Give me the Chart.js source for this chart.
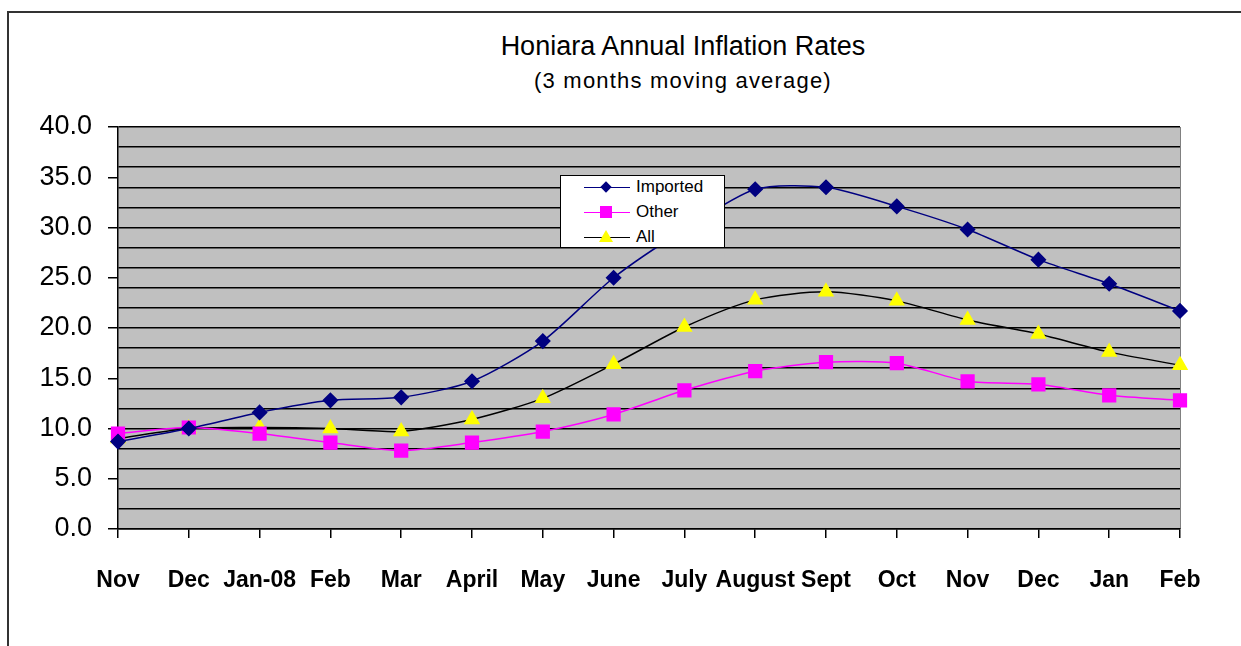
<!DOCTYPE html>
<html>
<head>
<meta charset="utf-8">
<script src="https://cdn.jsdelivr.net/npm/chart.js@4"></script>
<style>
  html, body { margin: 0; padding: 0; background: #fff; overflow: hidden; }
  body { width: 1241px; height: 646px; position: relative; font-family: Arial, "Liberation Sans", sans-serif; }
  #frame { position: absolute; left: 7px; top: 11px; width: 1400px; height: 700px; border-left: 2px solid #333; border-top: 2px solid #333; }
  #wrap { position: absolute; left: 0; top: 0; width: 1241px; height: 646px; }
  .ttl { position: absolute; left: 383px; width: 600px; text-align: center; color: #000; white-space: nowrap; }
  #title { top: 29px; font-size: 27px; line-height: 34px; }
  #subtitle { top: 67px; font-size: 22px; line-height: 28px; letter-spacing: 1.2px; }
  #legend { position: absolute; left: 560px; top: 175px; width: 163px; height: 71px; background: #fff; border: 1px solid #000; font-size: 17px; }
  .row { position: absolute; left: 0; height: 20px; width: 160px; }
  .row .ln { position: absolute; left: 23px; top: 10px; width: 46px; height: 0; border-top: 1.5px solid #000; }
  .row .mk { position: absolute; }
  .row .tx { position: absolute; left: 75px; top: 0px; }
</style>
</head>
<body>
<div id="frame"></div>
<div id="title" class="ttl">Honiara Annual Inflation Rates</div>
<div id="subtitle" class="ttl">(3 months moving average)</div>
<div id="wrap"><canvas id="inflationChart" width="1241" height="646"></canvas></div>
<div id="legend"></div>
<script>
months = ['Nov', 'Dec', 'Jan-08', 'Feb', 'Mar', 'April', 'May', 'June', 'July', 'August', 'Sept', 'Oct', 'Nov', 'Dec', 'Jan', 'Feb'];
imported = [8.7, 10.0, 11.6, 12.8, 13.1, 14.7, 18.7, 25.0, 29.8, 33.8, 34.0, 32.1, 29.8, 26.8, 24.4, 21.7];
other = [9.5, 10.1, 9.5, 8.6, 7.8, 8.6, 9.7, 11.4, 13.8, 15.7, 16.6, 16.5, 14.7, 14.4, 13.3, 12.8];
all = [9.0, 10.0, 10.1, 10.0, 9.7, 10.9, 13.0, 16.4, 20.1, 22.8, 23.6, 22.7, 20.8, 19.4, 17.6, 16.3];

seriesNames = ['Imported', 'Other', 'All'];
lineColors = ['#000080', '#ff00ff', '#000000'];
markerColors = ['#000080', '#ff00ff', '#ffff00'];
markerStyles = ['rectRot', 'rect', 'triangle'];
markerSizes = [7, 9, 8];

// grey plot background + right edge
const plotBackground = {
  id: 'plotBackground',
  beforeDraw(chart) {
    const a = chart.chartArea;
    const ctx = chart.ctx;
    ctx.save();
    ctx.fillStyle = '#c0c0c0';
    ctx.fillRect(a.left, a.top, a.right - a.left, a.bottom - a.top);
    ctx.strokeStyle = '#808080';
    ctx.lineWidth = 1;
    ctx.beginPath();
    ctx.moveTo(a.right + 0.5, a.top);
    ctx.lineTo(a.right + 0.5, a.bottom);
    ctx.stroke();
    ctx.restore();
  }
};

datasets = [];
seriesData = [imported, other, all];
for (var i = 0; i < 3; i++) {
  datasets.push({
    label: seriesNames[i],
    data: seriesData[i],
    borderColor: lineColors[i],
    borderWidth: 1.5,
    backgroundColor: markerColors[i],
    pointBackgroundColor: markerColors[i],
    pointBorderColor: markerColors[i],
    pointStyle: markerStyles[i],
    pointRadius: markerSizes[i],
    pointHoverRadius: markerSizes[i],
    tension: 0.25,
    fill: false
  });
}
datasets[0].order = 1;
datasets[1].order = 2;
datasets[2].order = 3;

const chart = new Chart(document.getElementById('inflationChart'), {
  type: 'line',
  data: { labels: months, datasets: datasets },
  plugins: [plotBackground],
  options: {
    responsive: false,
    animation: false,
    layout: { padding: { left: 0, right: 61, top: 127, bottom: 0 } },
    plugins: {
      legend: { display: false },
      tooltip: { enabled: false }
    },
    scales: {
      x: {
        offset: false,
        afterFit: function(scale) { scale.height = 117; },
        border: { color: '#000', width: 1.5 },
        grid: { drawOnChartArea: false, drawTicks: true, tickLength: 9, tickColor: '#000', lineWidth: 1.5 },
        ticks: {
          color: '#000',
          padding: 29,
          maxRotation: 0,
          autoSkip: false,
          font: { family: 'Arial, "Liberation Sans"', size: 23, weight: 'bold' }
        }
      },
      y: {
        min: 0,
        max: 40,
        afterFit: function(scale) { scale.width = 118; },
        border: { color: '#000', width: 1.5 },
        grid: {
          color: function(ctx) { return ctx.tick && ctx.tick.value % 2 === 0 ? '#000' : 'rgba(0,0,0,0)'; },
          tickColor: function(ctx) { return ctx.tick && ctx.tick.value % 5 === 0 ? '#000' : 'rgba(0,0,0,0)'; },
          lineWidth: 1.5,
          tickLength: 10
        },
        ticks: {
          stepSize: 1,
          autoSkip: false,
          color: '#000',
          padding: 16,
          font: { family: 'Arial, "Liberation Sans"', size: 27 },
          callback: function(v) { return v % 5 === 0 ? v.toFixed(1) : ''; }
        }
      }
    }
  }
});

// legend box built from the datasets
const legendBox = document.getElementById('legend');
for (var i = 0; i < 3; i++) {
  const row = document.createElement('div');
  row.className = 'row';
  row.style.top = (1 + i * 25) + 'px';
  const ln = document.createElement('div');
  ln.className = 'ln';
  ln.style.borderTopColor = lineColors[i];
  const mk = document.createElement('div');
  mk.className = 'mk';
  if (markerStyles[i] === 'rectRot') {
    mk.style.cssText = 'left:41px;top:6px;width:8px;height:8px;transform:rotate(45deg);background:' + markerColors[i];
  } else if (markerStyles[i] === 'rect') {
    mk.style.cssText = 'left:39px;top:4px;width:12px;height:12px;background:' + markerColors[i];
  } else {
    mk.style.cssText = 'left:38px;top:3px;width:0;height:0;border-left:7px solid transparent;border-right:7px solid transparent;border-bottom:12px solid ' + markerColors[i];
  }
  const tx = document.createElement('div');
  tx.className = 'tx';
  tx.textContent = seriesNames[i];
  row.appendChild(ln);
  row.appendChild(mk);
  row.appendChild(tx);
  legendBox.appendChild(row);
}
</script>
</body>
</html>
